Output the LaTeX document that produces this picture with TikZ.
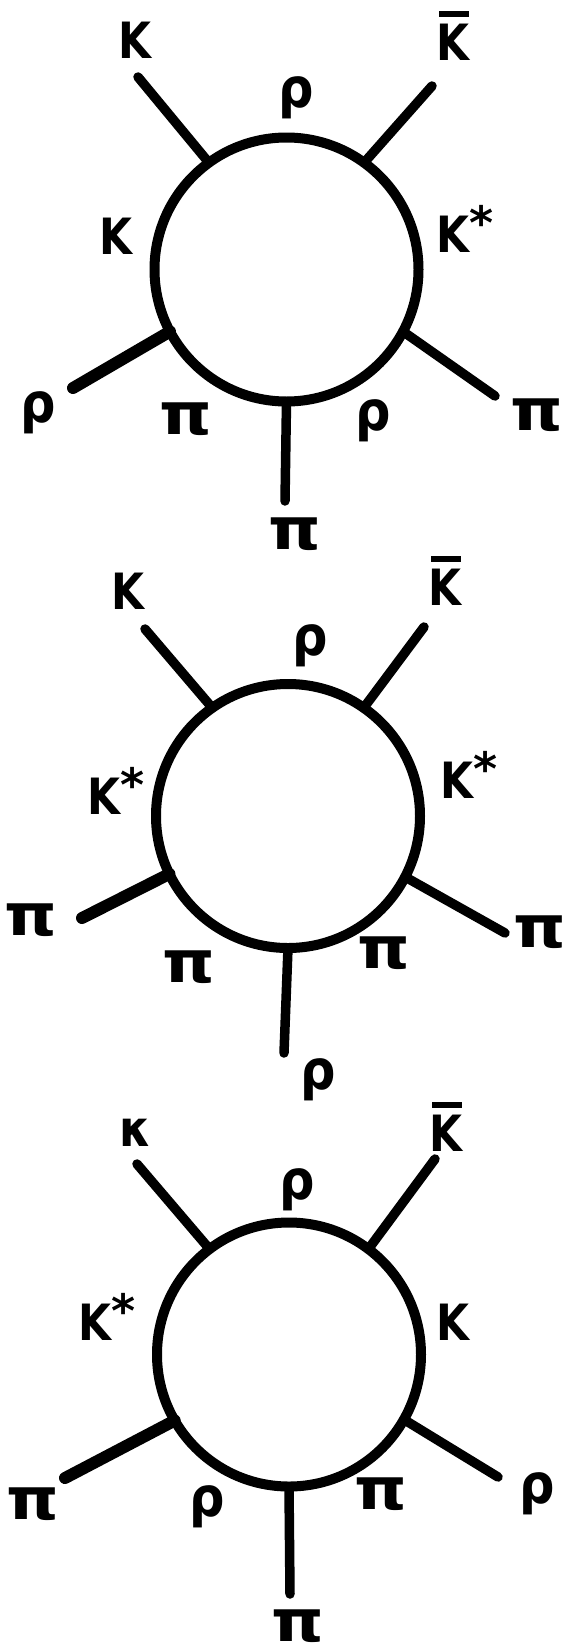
\documentclass[tikz,border=0pt]{standalone}
\usepackage{fontspec}
\setmainfont{DejaVu Sans}
\usepackage{graphicx}

\newcommand\lK{\scalebox{0.85}[1]{\fontsize{50}{50}\selectfont\bfseries K}}
\newcommand\lKs{\lK\raisebox{13pt}{\fontsize{46}{46}\selectfont\bfseries *}}
\newcommand\lKb{\rlap{\hspace{2pt}\rule[43pt]{30pt}{6.5pt}}\lK}
\newcommand\lpi{\scalebox{1.15}[1]{\fontsize{58}{58}\selectfont\bfseries π}}
\newcommand\lrho{\scalebox{0.9}[1]{\fontsize{55}{55}\selectfont\bfseries ρ}}
\newcommand\lkap{\scalebox{0.9}[1]{\fontsize{50}{50}\selectfont\bfseries κ}}

\tikzset{
  loopline/.style={line width=10pt},
  leg/.style={line width=9.5pt, line cap=round},
  thickleg/.style={line width=12pt, line cap=round},
  lab/.style={inner sep=0pt, anchor=center},
  labbase/.style={inner sep=0pt, anchor=base},
  labstar/.style={inner sep=0pt, anchor=base west},
}

\begin{document}
\begin{tikzpicture}[x=1pt,y=-1pt]
\useasboundingbox (0,0) rectangle (570,1652);

% ---------------- Diagram 1 ----------------
\coordinate (c1) at (286.5,269.5);
\coordinate (a1) at (208.9,162.7); \coordinate (e1) at (138,77);
\coordinate (b1) at (364.1,162.7); \coordinate (f1) at (432,86);
\coordinate (g1) at (170.0,331.5); \coordinate (h1) at (73,388);
\coordinate (i1) at (403.0,331.5); \coordinate (j1) at (495,396);
\coordinate (k1) at (286.5,401.5); \coordinate (l1) at (285,501);
\draw[loopline] (c1) circle[radius=132];
\draw[leg] (a1) -- (e1);
\draw[leg] (b1) -- (f1);
\draw[thickleg] (g1) -- (h1);
\draw[leg] (i1) -- (j1);
\draw[leg] (k1) -- (l1);
\node[lab] (t1a) at (135,40) {\lK};
\node[labbase] (t1b) at (453,60) {\lKb};
\node[lab] (t1c) at (296,98) {\lrho};
\node[lab] (t1d) at (116,236) {\lK};
\node[labstar] (t1e) at (436,252) {\lKs};
\node[lab] (t1f) at (38,413) {\lrho};
\node[lab] (t1g) at (186,419) {\lpi};
\node[lab] (t1h) at (373,421) {\lrho};
\node[lab] (t1i) at (537,415) {\lpi};
\node[lab] (t1j) at (295,534) {\lpi};

% ---------------- Diagram 2 ----------------
\coordinate (c2) at (288,816);
\coordinate (a2) at (212.3,707.9); \coordinate (e2) at (145,629);
\coordinate (b2) at (363.7,707.9); \coordinate (f2) at (424,627);
\coordinate (g2) at (169.4,873.9); \coordinate (h2) at (82,918);
\coordinate (i2) at (405.1,876.9); \coordinate (j2) at (505,933);
\coordinate (k2) at (288,948);     \coordinate (l2) at (284,1053);
\draw[loopline] (c2) circle[radius=132];
\draw[leg] (a2) -- (e2);
\draw[leg] (b2) -- (f2);
\draw[thickleg] (g2) -- (h2);
\draw[leg] (i2) -- (j2);
\draw[leg] (k2) -- (l2);
\node[lab] (t2a) at (128,591) {\lK};
\node[labbase] (t2b) at (445,605) {\lKb};
\node[lab] (t2c) at (310,646) {\lrho};
\node[labstar] (t2d) at (87,814) {\lKs};
\node[labstar] (t2e) at (440,798) {\lKs};
\node[lab] (t2f) at (31,920) {\lpi};
\node[lab] (t2g) at (540,932) {\lpi};
\node[lab] (t2h) at (189,967) {\lpi};
\node[lab] (t2i) at (384,953) {\lpi};
\node[lab] (t2j) at (318,1080) {\lrho};

% ---------------- Diagram 3 ----------------
\coordinate (c3) at (289,1354.5);
\coordinate (a3) at (209.6,1249.1); \coordinate (e3) at (137,1164);
\coordinate (b3) at (368.4,1249.1); \coordinate (f3) at (435,1159);
\coordinate (g3) at (174.7,1420.5); \coordinate (h3) at (65,1478);
\coordinate (i3) at (403.9,1419.5); \coordinate (j3) at (498,1477);
\coordinate (k3) at (289,1486.5);   \coordinate (l3) at (290,1594);
\draw[loopline] (c3) circle[radius=132];
\draw[leg] (a3) -- (e3);
\draw[leg] (b3) -- (f3);
\draw[thickleg] (g3) -- (h3);
\draw[leg] (i3) -- (j3);
\draw[leg] (k3) -- (l3);
\node[lab] (t3a) at (135,1133) {\lkap};
\node[labbase] (t3b) at (446,1151) {\lKb};
\node[lab] (t3c) at (297,1190) {\lrho};
\node[labstar] (t3d) at (78,1340) {\lKs};
\node[lab] (t3e) at (453,1322) {\lK};
\node[lab] (t3f) at (33,1504) {\lpi};
\node[lab] (t3g) at (207,1507) {\lrho};
\node[lab] (t3h) at (381,1494) {\lpi};
\node[lab] (t3i) at (537,1494) {\lrho};
\node[lab] (t3j) at (298,1626) {\lpi};
\end{tikzpicture}
\end{document}
